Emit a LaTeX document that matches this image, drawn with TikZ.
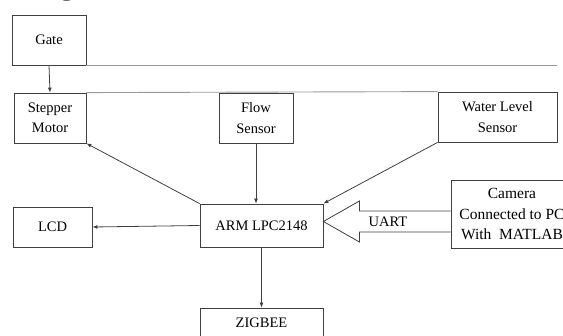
\documentclass[tikz,border=0pt]{standalone}
\usepackage{fontspec}
\setmainfont{Liberation Serif}
\usetikzlibrary{arrows.meta,calc}
\begin{document}
\begin{tikzpicture}[x=1pt,y=1pt,
  box/.style={draw=black!75, line width=0.8pt, rectangle, inner sep=0pt, align=center,
    font=\fontsize{14.5}{20.5}\selectfont},
  conn/.style={draw=black!75, line width=0.8pt, -{Latex[length=5pt,width=4pt]}},
  rule/.style={draw=black!40, line width=0.9pt}]
\useasboundingbox (0,0) rectangle (563,-336);
\clip (0,0) rectangle (563,-336);
\node[anchor=base west, font=\fontsize{30}{30}\selectfont\bfseries, inner sep=0pt] (title) at (1,5) {Bridge Module};
\node[box, minimum width=74, minimum height=50] (gate) at (49,-40) {Gate};
\node[box, minimum width=72, minimum height=50] (step) at (50,-118) {Stepper\\Motor};
\node[box, minimum width=74, minimum height=50] (flow) at (256,-118) {Flow\\Sensor};
\node[box, minimum width=119, minimum height=50] (water) at (497.5,-117) {Water Level\\Sensor};
\node[box, minimum width=123, minimum height=43] (arm) at (261.5,-225.5) {ARM LPC2148};
\node[box, minimum width=79, minimum height=40] (lcd) at (52.5,-227) {LCD};
\node[box, minimum width=122, minimum height=68, font=\fontsize{15.5}{20.5}\selectfont] (cam) at (512,-214) {Camera\\Connected to PC\\With~~MATLAB};
\node[box, minimum width=123, minimum height=40, text depth=11pt] (zig) at (261.5,-328) {ZIGBEE};
% horizontal rules
\draw[rule] (gate.south east) -- ++(471,0) coordinate (r1);
\draw[rule] (step.north east) -- (water.north west);
% connectors
\draw[conn] (gate.south) -- (step.north);
\draw[conn] (arm.north west) -- (step.south east);
\draw[conn] (flow.south) -- (flow.south |- arm.north);
\draw[conn] (water.south west) -- (arm.north east);
\draw[conn] (arm.west) -- (lcd.east);
\draw[conn] (arm.south) -- (zig.north);
% UART hollow arrow
\coordinate (tip) at ($(arm.east)+(0,4)$);
\draw[draw=black!75, line width=0.8pt, fill=white]
  (cam.west |- tip) ++(0,10.5) -- ($(tip)+(36,10.5)$) -- ($(tip)+(36,20.5)$)
  -- (tip) -- ($(tip)+(36,-20.5)$) -- ($(tip)+(36,-10.5)$)
  -- ($(cam.west |- tip)+(0,-10.5)$);
\node[font=\fontsize{14.5}{16}\selectfont, inner sep=0pt] (uart) at (388,-222) {UART};
\end{tikzpicture}
\end{document}
